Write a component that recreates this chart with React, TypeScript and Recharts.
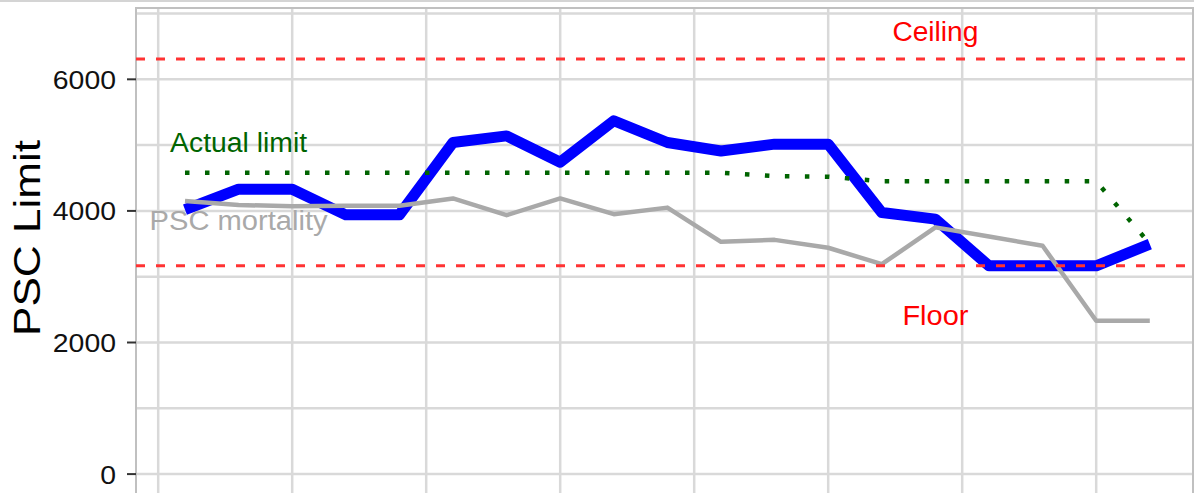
import React from "react";
import {
  CartesianGrid,
  Line,
  LineChart,
  ReferenceArea,
  ReferenceDot,
  ReferenceLine,
  XAxis,
  YAxis,
} from "recharts";

// one value per year, 1993-2011
const YEARS = [
  1993, 1994, 1995, 1996, 1997, 1998, 1999, 2000, 2001, 2002, 2003, 2004,
  2005, 2006, 2007, 2008, 2009, 2010, 2011,
];
const PSC_LIMIT = [
  4020, 4330, 4330, 3940, 3940, 5040, 5140, 4740, 5370, 5040, 4910, 5015,
  5015, 3975, 3875, 3165, 3165, 3165, 3495,
];
const PSC_MORTALITY = [
  4150, 4090, 4070, 4080, 4080, 4190, 3935, 4190, 3950, 4050, 3530, 3560,
  3440, 3190, 3750, 3610, 3470, 2330, 2330,
];
const ACTUAL_LIMIT = [
  4580, 4580, 4580, 4580, 4580, 4580, 4580, 4580, 4580, 4580, 4580, 4530,
  4520, 4450, 4450, 4450, 4450, 4450, 3500,
];

const CEILING = 6310;
const FLOOR = 3165;

const Y_TICKS = [0, 2000, 4000, 6000];
const Y_GRID = [0, 1000, 2000, 3000, 4000, 5000, 6000, 7000];
const X_GRID = [1992.5, 1995, 1997.5, 2000, 2002.5, 2005, 2007.5, 2010];
const X_DOMAIN = [1992.086, 2011.806];
const Y_DOMAIN = [-333, 7084];

const NOTES = [
  { text: "Ceiling", year: 2007, value: 6720, color: "#ff0000", width: 86 },
  { text: "Floor", year: 2007, value: 2415, color: "#ff0000", width: 66 },
  { text: "Actual limit", year: 1994, value: 5040, color: "#006400", width: 137 },
  { text: "PSC mortality", year: 1994, value: 3855, color: "#a9a9a9", width: 178 },
];

const FONT = "'Liberation Sans', Arial, sans-serif";

const data = YEARS.map((year, i) => ({
  year,
  limit: PSC_LIMIT[i],
  mortality: PSC_MORTALITY[i],
  actual: ACTUAL_LIMIT[i],
}));

function YTick(props: any) {
  const label = String(props.payload.value);
  return (
    <text
      x={116}
      y={props.y}
      dy={9.5}
      textAnchor="end"
      fontSize={26}
      fontFamily={FONT}
      fill="#111"
      textLength={label.length * 15.8}
      lengthAdjust="spacingAndGlyphs"
    >
      {label}
    </text>
  );
}

function YTitle() {
  return (
    <text
      x={40}
      y={238}
      transform="rotate(-90, 40, 238)"
      textAnchor="middle"
      fontSize={37}
      fontFamily={FONT}
      fill="#000"
      textLength={196}
      lengthAdjust="spacingAndGlyphs"
    >
      PSC Limit
    </text>
  );
}

function noteShape(note: (typeof NOTES)[number]) {
  return (p: any) => (
    <text
      x={p.cx}
      y={p.cy}
      dy={9.5}
      textAnchor="middle"
      fontSize={27}
      fontFamily={FONT}
      fill={note.color}
      textLength={note.width}
      lengthAdjust="spacingAndGlyphs"
    >
      {note.text}
    </text>
  );
}

export default function App() {
  return (
    <div
      style={{
        position: "fixed",
        top: 0,
        left: 0,
        width: 1194,
        height: 493,
        overflow: "hidden",
        background: "#fff",
      }}
    >
      <div
        style={{
          position: "absolute",
          top: 0,
          left: 0,
          width: 1194,
          height: 2,
          background: "#d4d4d4",
        }}
      />
      <LineChart
        width={1200}
        height={500}
        data={data}
        margin={{ top: 8, right: 7, bottom: 4, left: 0 }}
      >
        <CartesianGrid
          stroke="#d9d9d9"
          strokeWidth={2.5}
          horizontalValues={Y_GRID}
          verticalValues={X_GRID}
        />
        <XAxis
          dataKey="year"
          type="number"
          domain={X_DOMAIN}
          allowDataOverflow
          hide
        />
        <YAxis
          type="number"
          domain={Y_DOMAIN}
          ticks={Y_TICKS}
          allowDataOverflow
          width={136}
          axisLine={false}
          tickSize={9}
          tickLine={{ stroke: "#333", strokeWidth: 2 }}
          tick={<YTick />}
          label={{ content: () => <YTitle /> }}
        />
        <ReferenceArea
          x1={X_DOMAIN[0]}
          x2={X_DOMAIN[1]}
          y1={Y_DOMAIN[0]}
          y2={Y_DOMAIN[1]}
          fill="none"
          stroke="#c0c0c0"
          strokeWidth={2}
        />
        <Line
          dataKey="limit"
          stroke="#0000ff"
          strokeWidth={11}
          strokeLinejoin="round"
          dot={false}
          activeDot={false}
          isAnimationActive={false}
        />
        <Line
          dataKey="mortality"
          stroke="#a9a9a9"
          strokeWidth={4.5}
          strokeLinejoin="round"
          dot={false}
          activeDot={false}
          isAnimationActive={false}
        />
        <Line
          dataKey="actual"
          stroke="#006400"
          strokeWidth={4.5}
          strokeDasharray="4.5 15.5"
          dot={false}
          activeDot={false}
          isAnimationActive={false}
        />
        <ReferenceLine
          y={CEILING}
          stroke="#ff3333"
          strokeWidth={3}
          strokeDasharray="9 11"
        />
        <ReferenceLine
          y={FLOOR}
          stroke="#ff3333"
          strokeWidth={3}
          strokeDasharray="9 11"
        />
        {NOTES.map((note) => (
          <ReferenceDot
            key={note.text}
            x={note.year}
            y={note.value}
            r={0}
            shape={noteShape(note)}
          />
        ))}
      </LineChart>
    </div>
  );
}
